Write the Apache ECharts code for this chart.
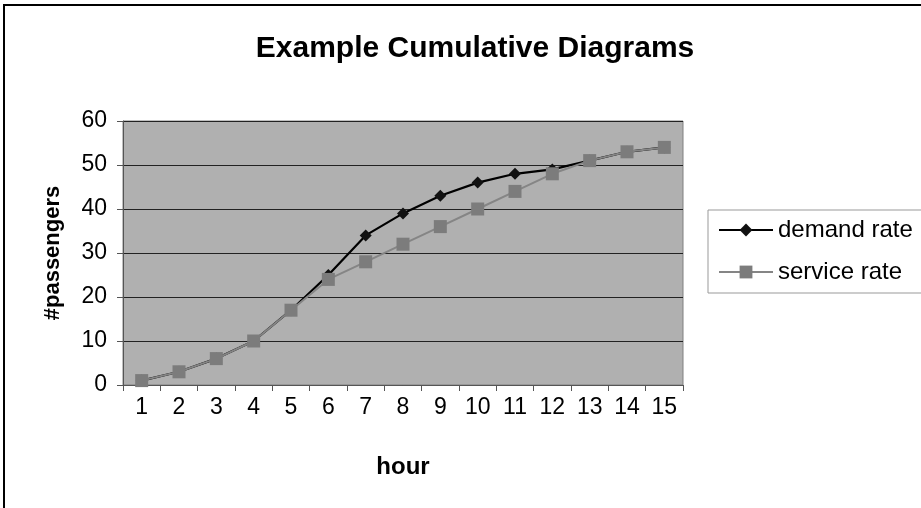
<!DOCTYPE html>
<html>
<head>
<meta charset="utf-8">
<style>
  html, body { margin: 0; padding: 0; background: #fff; }
  #chart { width: 921px; height: 508px; }
</style>
<script src="https://cdn.jsdelivr.net/npm/echarts@6/dist/echarts.min.js"></script>
</head>
<body>
<div id="chart"></div>
<script>
// chart data
const hours = ['1', '2', '3', '4', '5', '6', '7', '8', '9', '10', '11', '12', '13', '14', '15'];
const demandRate = [1, 3, 6, 10, 17, 25, 34, 39, 43, 46, 48, 49, 51, 53, 54];
const serviceRate = [1, 3, 6, 10, 17, 24, 28, 32, 36, 40, 44, 48, 51, 53, 54];

const font = 'Liberation Sans, Arial, sans-serif';

const chart = echarts.init(document.getElementById('chart'));

chart.setOption({
  animation: false,
  backgroundColor: '#fff',
  title: {
    text: 'Example Cumulative Diagrams',
    left: 470,
    top: 29,
    textAlign: 'center',
    textStyle: { fontFamily: font, fontSize: 30, fontWeight: 'bold', color: '#000' }
  },
  graphic: [{
    type: 'rect',
    shape: { x: 4, y: 5, width: 940, height: 530 },
    style: { fill: 'none', stroke: '#000', lineWidth: 2 },
    silent: true
  }],
  legend: {
    orient: 'vertical',
    left: 708,
    top: 210,
    padding: [6, 12, 7, 10],
    itemGap: 14,
    itemWidth: 54,
    itemHeight: 16,
    backgroundColor: '#fff',
    borderColor: '#999',
    borderWidth: 1,
    borderRadius: 0,
    textStyle: { fontFamily: font, fontSize: 24, lineHeight: 28, color: '#000' },
    data: ['demand rate', 'service rate']
  },
  grid: {
    left: 123,
    right: 238,
    top: 121,
    bottom: 123,
    show: true,
    backgroundColor: '#b0b0b0',
    borderColor: '#808080',
    borderWidth: 1
  },
  xAxis: {
    type: 'category',
    data: hours,
    boundaryGap: true,
    name: 'hour',
    nameLocation: 'middle',
    nameGap: 70,
    nameTextStyle: { fontFamily: font, fontSize: 24, fontWeight: 'bold', color: '#000' },
    axisLine: { lineStyle: { color: '#555', width: 1 } },
    axisTick: { show: true, length: 6, lineStyle: { color: '#555' } },
    axisLabel: { fontFamily: font, fontSize: 23, color: '#000', margin: 11 },
    splitLine: { show: false }
  },
  yAxis: {
    type: 'value',
    min: 0,
    max: 60,
    interval: 10,
    name: '#passengers',
    nameLocation: 'middle',
    nameRotate: 90,
    nameGap: 59,
    nameTextStyle: { fontFamily: font, fontSize: 22, fontWeight: 'bold', color: '#000' },
    axisLine: { show: true, lineStyle: { color: '#555', width: 1 } },
    axisTick: { show: true, length: 6, lineStyle: { color: '#555' } },
    axisLabel: { fontFamily: font, fontSize: 23, color: '#000', margin: 16 },
    splitLine: { show: true, lineStyle: { color: '#222', width: 1 } }
  },
  series: [{
    name: 'demand rate',
    type: 'line',
    data: demandRate,
    symbol: 'diamond',
    symbolSize: 12,
    lineStyle: { color: '#000', width: 2.2 },
    itemStyle: { color: '#111' }
  }, {
    name: 'service rate',
    type: 'line',
    data: serviceRate,
    symbol: 'rect',
    symbolSize: 13,
    lineStyle: { color: '#858585', width: 2 },
    itemStyle: { color: '#7c7c7c' }
  }]
});
</script>
</body>
</html>
